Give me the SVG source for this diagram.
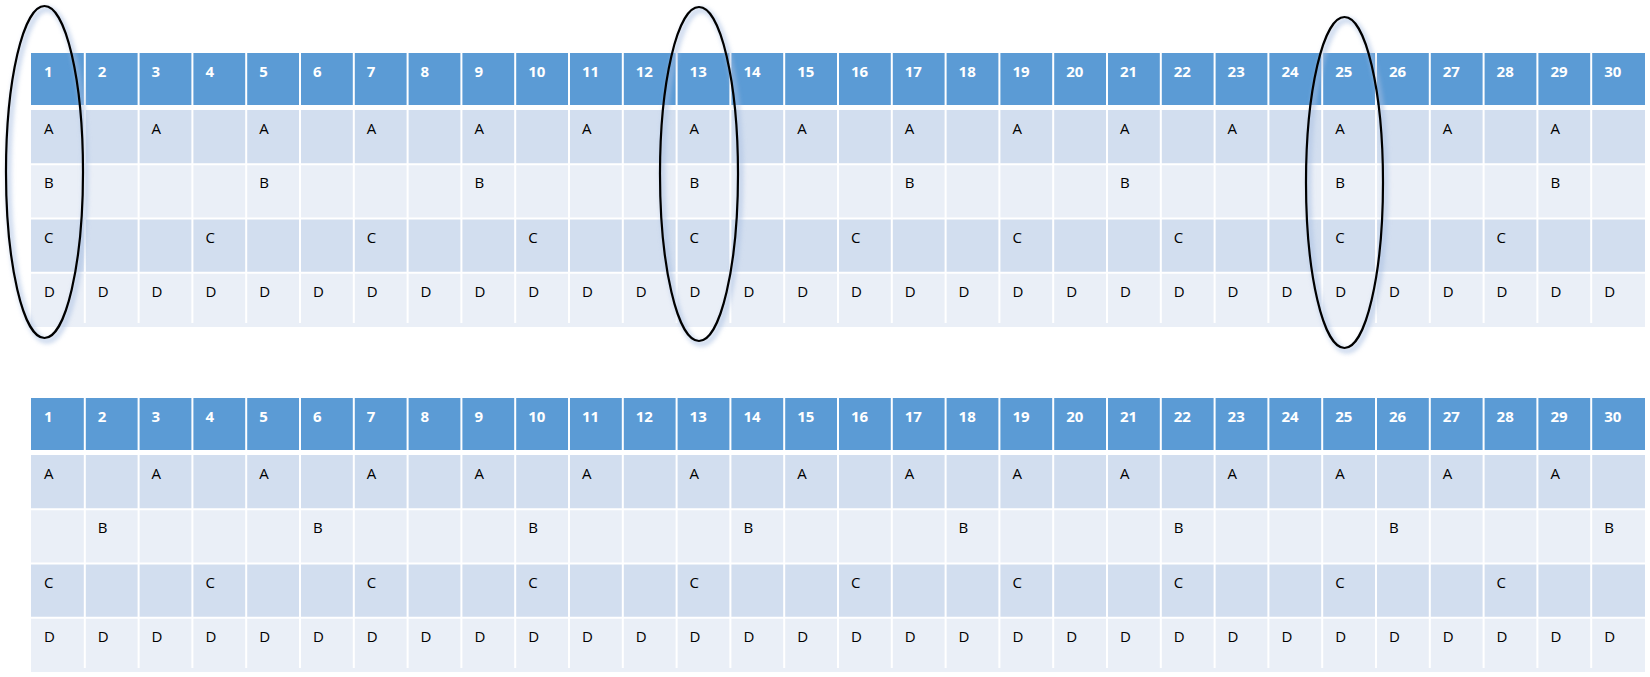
<svg xmlns="http://www.w3.org/2000/svg" width="1650" height="677" viewBox="0 0 1650 677">
<style>
.hd{fill:#5B9BD5}
.r1{fill:#D2DEEF}
.r2{fill:#EAEFF7}
.gl{stroke:#FFFFFF;stroke-width:2;fill:none}
.gh{stroke:#FFFFFF;stroke-width:5;fill:none}
.ht{font-family:"Open Sans","Liberation Sans",sans-serif;font-size:15px;font-weight:bold;fill:#FFFFFF}
.dt{font-family:"Open Sans","Liberation Sans",sans-serif;font-size:15px;fill:#000000}
.ring{fill:none;stroke:#000000;stroke-width:2.2}
.halo{fill:none;stroke:#A9BFE2;stroke-width:6;opacity:0.55}
</style>
<defs>
<filter id="blur" x="-20%" y="-10%" width="140%" height="120%"><feGaussianBlur stdDeviation="2"/></filter>
<g id="vlines" class="gl">
<path d="M84.8 0V270M138.6 0V270M192.4 0V270M246.2 0V270M300 0V270M353.8 0V270M407.6 0V270M461.4 0V270M515.2 0V270M569 0V270M622.8 0V270M676.6 0V270M730.4 0V270M784.2 0V270M838 0V270M891.8 0V270M945.6 0V270M999.4 0V270M1053.2 0V270M1107 0V270M1160.8 0V270M1214.6 0V270M1268.4 0V270M1322.2 0V270M1376 0V270M1429.8 0V270M1483.6 0V270M1537.4 0V270M1591.2 0V270"/>
</g>
<g id="hrow" class="ht">
<text x="44" y="24">1</text><text x="97.8" y="24">2</text><text x="151.6" y="24">3</text><text x="205.4" y="24">4</text><text x="259.2" y="24">5</text><text x="313" y="24">6</text><text x="366.8" y="24">7</text><text x="420.6" y="24">8</text><text x="474.4" y="24">9</text><text x="528.2" y="24">10</text><text x="582" y="24">11</text><text x="635.8" y="24">12</text><text x="689.6" y="24">13</text><text x="743.4" y="24">14</text><text x="797.2" y="24">15</text><text x="851" y="24">16</text><text x="904.8" y="24">17</text><text x="958.6" y="24">18</text><text x="1012.4" y="24">19</text><text x="1066.2" y="24">20</text><text x="1120" y="24">21</text><text x="1173.8" y="24">22</text><text x="1227.6" y="24">23</text><text x="1281.4" y="24">24</text><text x="1335.2" y="24">25</text><text x="1389" y="24">26</text><text x="1442.8" y="24">27</text><text x="1496.6" y="24">28</text><text x="1550.4" y="24">29</text><text x="1604.2" y="24">30</text>
</g>
<g id="rowA" class="dt">
<text x="44" y="0">A</text><text x="151.6" y="0">A</text><text x="259.2" y="0">A</text><text x="366.8" y="0">A</text><text x="474.4" y="0">A</text><text x="582" y="0">A</text><text x="689.6" y="0">A</text><text x="797.2" y="0">A</text><text x="904.8" y="0">A</text><text x="1012.4" y="0">A</text><text x="1120" y="0">A</text><text x="1227.6" y="0">A</text><text x="1335.2" y="0">A</text><text x="1442.8" y="0">A</text><text x="1550.4" y="0">A</text>
</g>
<g id="rowC" class="dt">
<text x="44" y="0">C</text><text x="205.4" y="0">C</text><text x="366.8" y="0">C</text><text x="528.2" y="0">C</text><text x="689.6" y="0">C</text><text x="851" y="0">C</text><text x="1012.4" y="0">C</text><text x="1173.8" y="0">C</text><text x="1335.2" y="0">C</text><text x="1496.6" y="0">C</text>
</g>
<g id="rowD" class="dt">
<text x="44" y="0">D</text><text x="97.8" y="0">D</text><text x="151.6" y="0">D</text><text x="205.4" y="0">D</text><text x="259.2" y="0">D</text><text x="313" y="0">D</text><text x="366.8" y="0">D</text><text x="420.6" y="0">D</text><text x="474.4" y="0">D</text><text x="528.2" y="0">D</text><text x="582" y="0">D</text><text x="635.8" y="0">D</text><text x="689.6" y="0">D</text><text x="743.4" y="0">D</text><text x="797.2" y="0">D</text><text x="851" y="0">D</text><text x="904.8" y="0">D</text><text x="958.6" y="0">D</text><text x="1012.4" y="0">D</text><text x="1066.2" y="0">D</text><text x="1120" y="0">D</text><text x="1173.8" y="0">D</text><text x="1227.6" y="0">D</text><text x="1281.4" y="0">D</text><text x="1335.2" y="0">D</text><text x="1389" y="0">D</text><text x="1442.8" y="0">D</text><text x="1496.6" y="0">D</text><text x="1550.4" y="0">D</text><text x="1604.2" y="0">D</text>
</g>
<g id="tbody">
<rect class="hd" x="31" y="0" width="1614" height="52"/>
<rect class="r1" x="31" y="57" width="1614" height="54.25"/>
<rect class="r2" x="31" y="111.25" width="1614" height="54.25"/>
<rect class="r1" x="31" y="165.5" width="1614" height="54.25"/>
<rect class="r2" x="31" y="219.75" width="1614" height="54.25"/>
<path class="gl" d="M31 111.25H1645M31 165.5H1645M31 219.75H1645"/>
<use href="#vlines"/>
<rect x="31" y="52" width="1614" height="5" fill="#FFFFFF"/>
<use href="#hrow"/>
<use href="#rowA" y="81"/>
<use href="#rowC" y="189.5"/>
<use href="#rowD" y="243.75"/>
</g>
</defs>
<g id="table-top">
<use href="#tbody" x="0" y="53"/>
<g class="dt">
<text x="44" y="188.25">B</text><text x="259.2" y="188.25">B</text><text x="474.4" y="188.25">B</text><text x="689.6" y="188.25">B</text><text x="904.8" y="188.25">B</text><text x="1120" y="188.25">B</text><text x="1335.2" y="188.25">B</text><text x="1550.4" y="188.25">B</text>
</g>
</g>
<g id="table-bottom">
<use href="#tbody" x="0" y="398"/>
<g class="dt">
<text x="97.8" y="533.25">B</text><text x="313" y="533.25">B</text><text x="528.2" y="533.25">B</text><text x="743.4" y="533.25">B</text><text x="958.6" y="533.25">B</text><text x="1173.8" y="533.25">B</text><text x="1389" y="533.25">B</text><text x="1604.2" y="533.25">B</text>
</g>
</g>
<g id="ellipse-1">
<ellipse class="halo" cx="47" cy="175" rx="38.5" ry="166" filter="url(#blur)"/>
<ellipse class="ring" cx="44.5" cy="172" rx="38.5" ry="166"/>
</g>
<g id="ellipse-13">
<ellipse class="halo" cx="701.5" cy="177" rx="39" ry="167" filter="url(#blur)"/>
<ellipse class="ring" cx="699" cy="174" rx="39" ry="167"/>
</g>
<g id="ellipse-25">
<ellipse class="halo" cx="1347" cy="185.5" rx="38.5" ry="165.5" filter="url(#blur)"/>
<ellipse class="ring" cx="1344.5" cy="182.5" rx="38.5" ry="165.5"/>
</g>
</svg>
